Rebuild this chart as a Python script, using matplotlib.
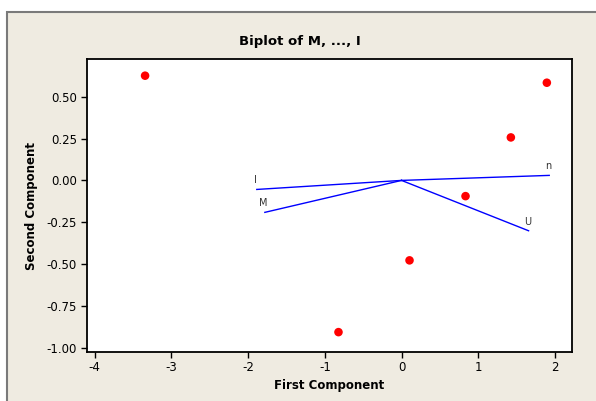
import matplotlib
matplotlib.use("Agg")
import matplotlib.pyplot as plt
from matplotlib.patches import Rectangle

# Observation scores (first component, second component)
score_pc1 = [-3.343, 1.894, 1.425, 0.834, 0.104, -0.822]
score_pc2 = [0.626, 0.584, 0.257, -0.094, -0.478, -0.907]

# Variable loading vectors
var_names = ["n", "I", "M", "U"]
load_pc1 = [1.925, -1.887, -1.782, 1.656]
load_pc2 = [0.030, -0.054, -0.191, -0.301]

x_ticks = [-4, -3, -2, -1, 0, 1, 2]
y_ticks = [-1.00, -0.75, -0.50, -0.25, 0.00, 0.25, 0.50]

W, H = 596, 401
fig = plt.figure(figsize=(W / 100, H / 100), dpi=100, facecolor="white")

# Beige panel behind the chart
panel = Rectangle((7 / W, -0.01), 1.01 - 7 / W, (H - 12) / H + 0.01, transform=fig.transFigure,
                  facecolor="#EFEBE1", edgecolor="#7A7A7A", linewidth=1.5, zorder=-10)
fig.add_artist(panel)

ax = fig.add_axes([86.7 / W, 1 - 351.7 / H, (571.7 - 86.7) / W, (351.7 - 59.3) / H])
ax.set_zorder(1)
ax.set_facecolor("white")

for name, lx, ly in zip(var_names, load_pc1, load_pc2):
    ax.plot([0, lx], [0, ly], color="#0000FF", linewidth=1.0, zorder=2)
    ax.annotate(name, (lx, ly), xytext=(-1, 6.5), textcoords="offset points",
                ha="center", va="center", fontsize=7, color="#333333")

ax.scatter(score_pc1, score_pc2, s=38, color="#FF0000", edgecolors="none", zorder=3)

ax.set_xlim(-4.104, 2.218)
ax.set_ylim(-1.024, 0.724)
ax.set_xticks(x_ticks)
ax.set_xticklabels([str(t) for t in x_ticks])
ax.set_yticks(y_ticks)
ax.set_yticklabels([f"{t:.2f}" for t in y_ticks])
ax.tick_params(direction="out", length=4, width=1, labelsize=8.5, colors="black",
               top=False, right=False, pad=3)
for sp in ax.spines.values():
    sp.set_linewidth(1.3)
    sp.set_color("black")

fig.text(300 / W, 1 - 41 / H, "Biplot of M, ..., I", ha="center", va="center",
         fontsize=9.5, fontweight="bold")
ax.set_xlabel("First Component", fontsize=8.5, fontweight="bold", labelpad=3)
ax.set_ylabel("Second Component", fontsize=8.5, fontweight="bold", labelpad=6)

fig.savefig("out.png", dpi=100, facecolor=fig.get_facecolor())
